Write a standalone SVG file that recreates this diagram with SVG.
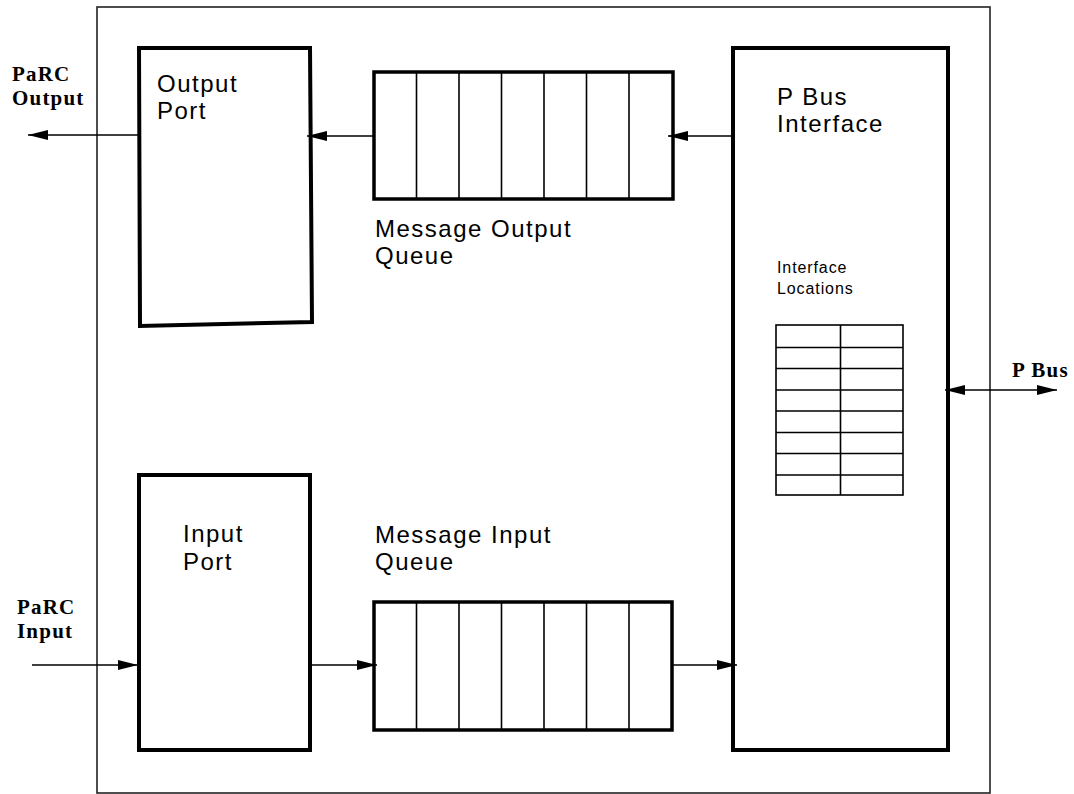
<svg xmlns="http://www.w3.org/2000/svg" width="1074" height="794" viewBox="0 0 1074 794">
<style>
.box{fill:#fff;stroke:#000;stroke-width:4}
.q{fill:#fff;stroke:#000;stroke-width:3.5}
.div{stroke:#000;stroke-width:1.6}
.tbl{fill:none;stroke:#000;stroke-width:1.6}
.conn{stroke:#000;stroke-width:1.6;fill:none}
.lbl{font-family:"Liberation Sans",Arial,sans-serif;font-size:24px;letter-spacing:1.5px;fill:#000}
.small{font-family:"Liberation Sans",Arial,sans-serif;font-size:16px;letter-spacing:0.9px;fill:#000}
.ext{font-family:"Liberation Serif","Times New Roman",serif;font-weight:bold;font-size:21px;letter-spacing:1.2px;fill:#000}
</style>
<defs>
<marker id="ah" viewBox="0 0 20 10" refX="20" refY="5" markerWidth="20" markerHeight="10" markerUnits="userSpaceOnUse" orient="auto-start-reverse">
<path d="M0,0 L20,5 L0,10 Z" fill="#000"/>
</marker>
</defs>
<rect width="1074" height="794" fill="#fff"/>
<g id="outer">
<rect x="97" y="7" width="893" height="786" fill="none" stroke="#222" stroke-width="1.6"/>
</g>
<g id="output-port">
<path class="box" d="M139,48 L310,48 L312,322 L140,326 Z"/>
<text class="lbl" x="157" y="92">Output</text>
<text class="lbl" x="157" y="119">Port</text>
</g>
<g id="message-output-queue">
<rect class="q" x="374" y="72" width="299" height="127"/>
<line class="div" x1="416.5" y1="72" x2="416.5" y2="199"/>
<line class="div" x1="459" y1="72" x2="459" y2="199"/>
<line class="div" x1="501.5" y1="72" x2="501.5" y2="199"/>
<line class="div" x1="544" y1="72" x2="544" y2="199"/>
<line class="div" x1="586.5" y1="72" x2="586.5" y2="199"/>
<line class="div" x1="629" y1="72" x2="629" y2="199"/>
<text class="lbl" x="375" y="237">Message Output</text>
<text class="lbl" x="375" y="264">Queue</text>
</g>
<g id="p-bus-interface">
<rect class="box" x="733" y="48" width="215" height="702"/>
<text class="lbl" x="777" y="105">P Bus</text>
<text class="lbl" x="777" y="132">Interface</text>
<text class="small" x="777" y="273">Interface</text>
<text class="small" x="777" y="294">Locations</text>
<g id="interface-locations">
<rect class="tbl" x="776" y="325" width="127" height="170"/>
<line class="tbl" x1="840.5" y1="325" x2="840.5" y2="495"/>
<path class="tbl" d="M776,347.5H903 M776,368.5H903 M776,390H903 M776,411H903 M776,432.5H903 M776,453.5H903 M776,475H903"/>
</g>
</g>
<g id="input-port">
<rect class="box" x="139" y="475" width="171" height="275"/>
<text class="lbl" x="183" y="542">Input</text>
<text class="lbl" x="183" y="570">Port</text>
</g>
<g id="message-input-queue">
<rect class="q" x="374" y="602" width="298" height="128"/>
<line class="div" x1="416.5" y1="602" x2="416.5" y2="730"/>
<line class="div" x1="459" y1="602" x2="459" y2="730"/>
<line class="div" x1="501.5" y1="602" x2="501.5" y2="730"/>
<line class="div" x1="544" y1="602" x2="544" y2="730"/>
<line class="div" x1="586.5" y1="602" x2="586.5" y2="730"/>
<line class="div" x1="629" y1="602" x2="629" y2="730"/>
<text class="lbl" x="375" y="543">Message Input</text>
<text class="lbl" x="375" y="570">Queue</text>
</g>
<g id="external-labels">
<text class="ext" x="12" y="81">PaRC</text>
<text class="ext" x="12" y="105">Output</text>
<text class="ext" x="17" y="614">PaRC</text>
<text class="ext" x="17" y="638">Input</text>
<text class="ext" x="1012" y="377">P Bus</text>
</g>
<g id="connectors">
<line class="conn" x1="139" y1="135" x2="28" y2="135" marker-end="url(#ah)"/>
<line class="conn" x1="374" y1="136" x2="307" y2="136" marker-end="url(#ah)"/>
<line class="conn" x1="733" y1="136" x2="668" y2="136" marker-end="url(#ah)"/>
<line class="conn" x1="32" y1="665" x2="138" y2="665" marker-end="url(#ah)"/>
<line class="conn" x1="310" y1="665" x2="377" y2="665" marker-end="url(#ah)"/>
<line class="conn" x1="672" y1="665" x2="737" y2="665" marker-end="url(#ah)"/>
<line class="conn" x1="945" y1="390" x2="1057" y2="390" marker-start="url(#ah)" marker-end="url(#ah)"/>
</g>
</svg>
